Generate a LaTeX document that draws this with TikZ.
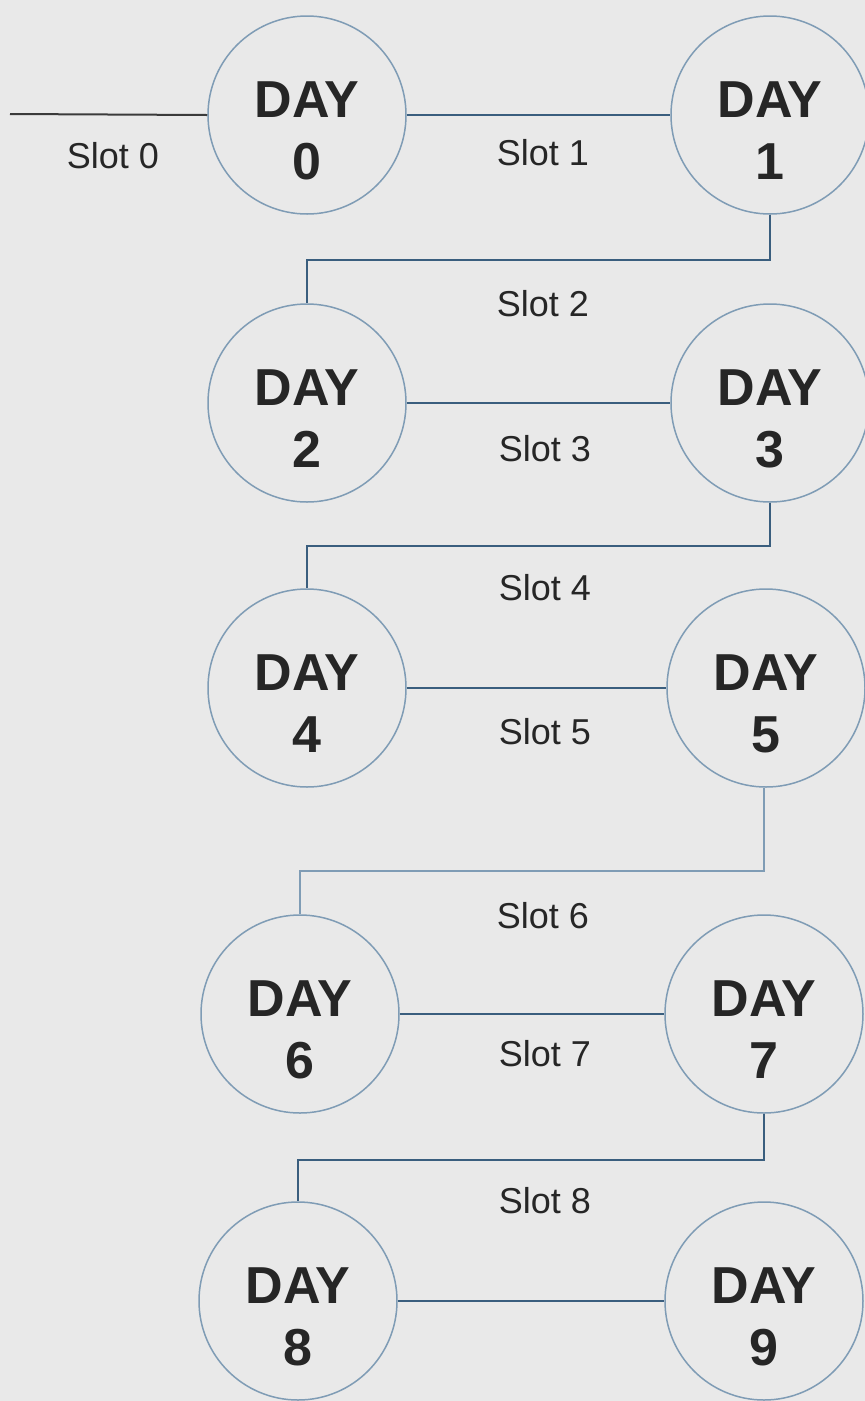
\documentclass[tikz,border=0pt]{standalone}
\usepackage{fontspec}
\setmainfont{Liberation Sans}
\definecolor{bgc}{HTML}{E9E9E9}
\definecolor{ringc}{HTML}{7F9CB5}
\definecolor{linec}{HTML}{3A5E7E}
\definecolor{txtc}{HTML}{262626}
\definecolor{leadc}{HTML}{3A3A3A}
\begin{document}
\begin{tikzpicture}[x=1pt,y=-1pt,
  daycircle/.style={circle,draw=ringc,line width=1.5pt,minimum size=198pt,inner sep=0pt},
  daytext/.style={align=center,text=txtc,font=\bfseries\fontsize{52}{62}\selectfont,inner sep=0pt},
  slottext/.style={anchor=base,text=txtc,font=\fontsize{36}{40}\selectfont,inner sep=0pt},
  hline/.style={draw=linec,line width=2pt},
  vline/.style={draw=ringc,line width=2pt},
  lead/.style={draw=leadc,line width=2pt}]
\fill[bgc] (0,0) rectangle (865,1401);
\useasboundingbox (0,0) rectangle (865,1401);
% circles
\node[daycircle] (d0) at (307,115) {};
\node[daycircle] (d1) at (770,115) {};
\node[daycircle] (d2) at (307,403) {};
\node[daycircle] (d3) at (770,403) {};
\node[daycircle] (d4) at (307,688) {};
\node[daycircle] (d5) at (766,688) {};
\node[daycircle] (d6) at (300,1014) {};
\node[daycircle] (d7) at (764,1014) {};
\node[daycircle] (d8) at (298,1301) {};
\node[daycircle] (d9) at (764,1301) {};
% texts
\node[daytext] (t0) at ([yshift=-16pt]d0.center) {DAY\\0};
\node[daytext] (t1) at ([yshift=-16pt]d1.center) {DAY\\1};
\node[daytext] (t2) at ([yshift=-16pt]d2.center) {DAY\\2};
\node[daytext] (t3) at ([yshift=-16pt]d3.center) {DAY\\3};
\node[daytext] (t4) at ([yshift=-16pt]d4.center) {DAY\\4};
\node[daytext] (t5) at ([yshift=-16pt]d5.center) {DAY\\5};
\node[daytext] (t6) at ([yshift=-16pt]d6.center) {DAY\\6};
\node[daytext] (t7) at ([yshift=-16pt]d7.center) {DAY\\7};
\node[daytext] (t8) at ([yshift=-16pt]d8.center) {DAY\\8};
\node[daytext] (t9) at ([yshift=-16pt]d9.center) {DAY\\9};
% slot labels
\node[slottext] (s0) at (113,168) {Slot 0};
\node[slottext] (s1) at (543,165) {Slot 1};
\node[slottext] (s2) at (543,316) {Slot 2};
\node[slottext] (s3) at (545,461) {Slot 3};
\node[slottext] (s4) at (545,600) {Slot 4};
\node[slottext] (s5) at (545,744) {Slot 5};
\node[slottext] (s6) at (543,928) {Slot 6};
\node[slottext] (s7) at (545,1066) {Slot 7};
\node[slottext] (s8) at (545,1213) {Slot 8};
% connectors
\coordinate (start) at (10,114);
\draw[lead] (start) -- (d0.west);
\draw[hline] (d0.east) -- (d1.west);
\draw[hline] (d1.south) -- ++(0,45) -| (d2.north);
\draw[hline] (d2.east) -- (d3.west);
\draw[hline] (d3.south) -- ++(0,43) -| (d4.north);
\draw[hline] (d4.east) -- (d5.west);
\draw[vline] ([xshift=-2pt]d5.south) -- ++(0,83) -| (d6.north);
\draw[hline] (d6.east) -- (d7.west);
\draw[hline] (d7.south) -- ++(0,46) -| (d8.north);
\draw[hline] (d8.east) -- (d9.west);
\end{tikzpicture}
\end{document}
